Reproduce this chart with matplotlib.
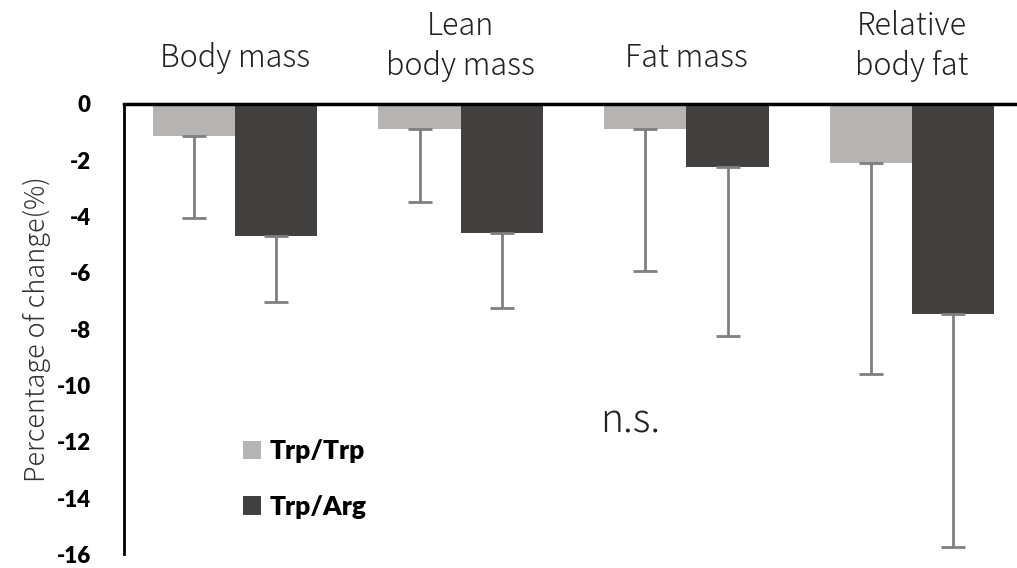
import matplotlib
matplotlib.use('Agg')
import matplotlib.pyplot as plt
import numpy as np

categories = ['Body mass', 'Lean\nbody mass', 'Fat mass', 'Relative\nbody fat']
groups = ['Trp/Trp', 'Trp/Arg']
trp_trp = [-1.15, -0.9, -0.9, -2.1]
trp_arg = [-4.7, -4.6, -2.25, -7.45]
trp_trp_sd = [2.9, 2.6, 5.05, 7.5]
trp_arg_sd = [2.35, 2.65, 6.0, 8.3]
yticks = [0, -2, -4, -6, -8, -10, -12, -14, -16]

light = '#b5b4b3'
dark = '#434140'
err_color = '#7f7f7f'
thin_font = 'Noto Sans CJK JP'

fig = plt.figure(figsize=(10.17, 5.68), dpi=100)
ax = fig.add_axes([0.122, 0.024, 0.878, 0.793])

x = np.arange(len(categories))
w = 0.365
err_kw = dict(ecolor=err_color, elinewidth=2, capsize=8.5, capthick=2)
b1 = ax.bar(x - w / 2, trp_trp, w, color=light, label=groups[0],
            yerr=[trp_trp_sd, np.zeros(len(x))], error_kw=err_kw)
b2 = ax.bar(x + w / 2, trp_arg, w, color=dark, label=groups[1],
            yerr=[trp_arg_sd, np.zeros(len(x))], error_kw=err_kw)

ax.set_xlim(-0.492, 3.465)
ax.set_ylim(-16, 0)
ax.set_yticks(yticks)
ax.set_yticklabels([str(t) for t in yticks], fontsize=16, fontweight='heavy',
                   family='Lato')
ax.tick_params(axis='y', length=0, pad=24)
ax.set_xticks([])

for s in ['right', 'bottom']:
    ax.spines[s].set_visible(False)
ax.spines['left'].set_linewidth(2)
ax.spines['top'].set_linewidth(2.5)

# category names sit above the zero line
for i, name in enumerate(categories):
    y = 2.05 if '\n' in name else 1.62
    ax.text(i, y, name, ha='center', va='center', fontsize=22,
            family=thin_font, fontweight='light', color='#222222',
            linespacing=1.3, clip_on=False)

ax.set_ylabel('Percentage of change(%)', fontsize=19.5, family=thin_font,
              fontweight='light', color='#333333', labelpad=4)

ax.text(1.75, -11.3, 'n.s.', ha='center', va='center', fontsize=28,
        family=thin_font, fontweight='light', color='#222222')

leg = ax.legend(handles=[b1, b2], loc='upper left',
                bbox_to_anchor=(0.133, 0.256), frameon=False,
                prop={'family': 'Lato', 'weight': 'heavy', 'size': 19},
                handlelength=0.7, handleheight=0.7, handletextpad=0.3,
                labelspacing=1.2, borderpad=0, borderaxespad=0)

fig.savefig('out.png', dpi=100)
